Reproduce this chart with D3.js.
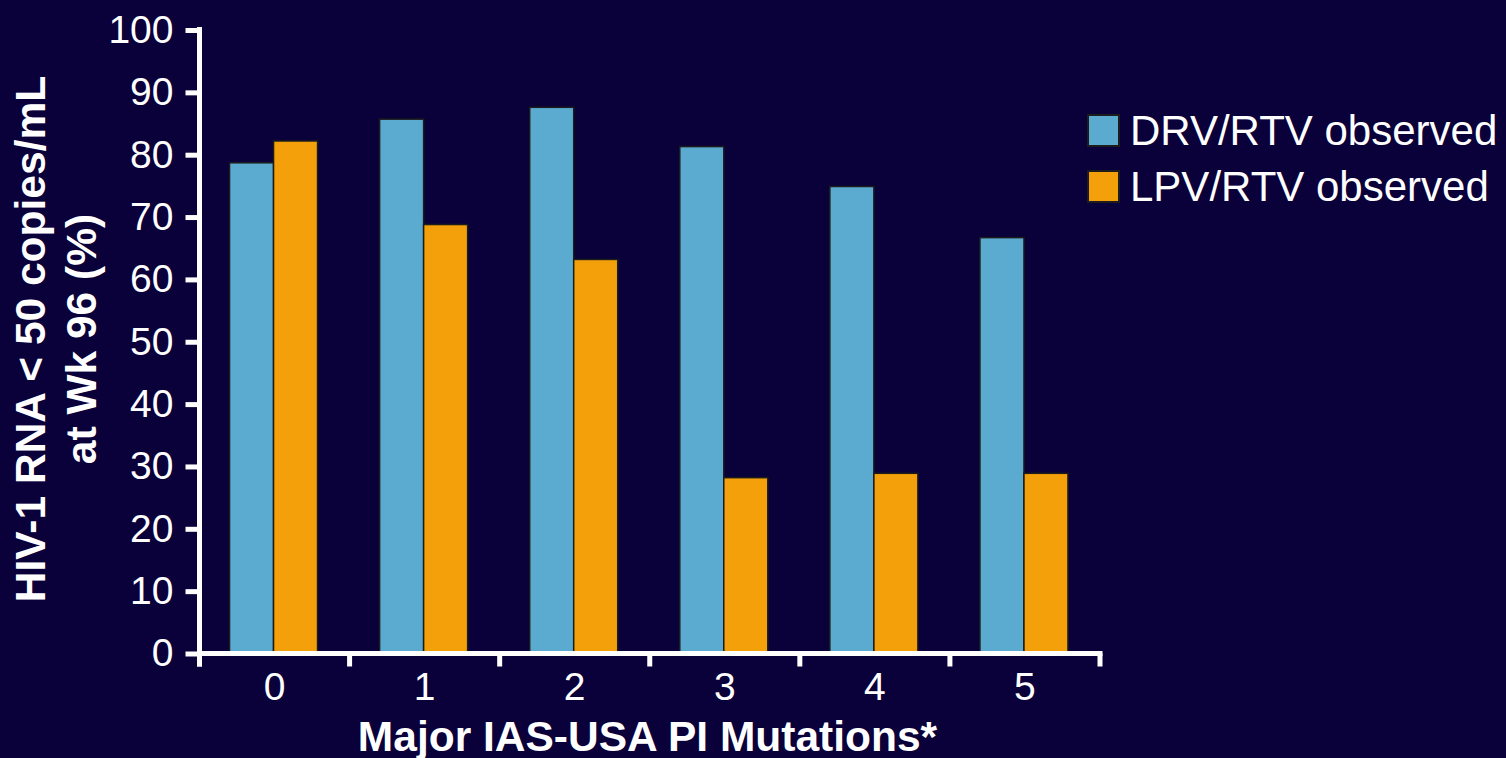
<!DOCTYPE html>
<html>
<head>
<meta charset="utf-8">
<script src="https://cdn.jsdelivr.net/npm/d3@7.9.0/dist/d3.min.js"></script>
<style>
  html, body { margin: 0; padding: 0; background: #0a003a; }
  svg { display: block; font-family: "Liberation Sans", Arial, sans-serif; }
</style>
</head>
<body>
<svg id="chart" width="1506" height="758"></svg>
<script>
const categories = ['0', '1', '2', '3', '4', '5'];
const series = ['DRV/RTV observed', 'LPV/RTV observed'];
const drvValues = [78.7, 85.7, 87.6, 81.3, 74.9, 66.7];
const lpvValues = [82.2, 68.8, 63.2, 28.2, 28.9, 28.9];
const yTicks = [0, 10, 20, 30, 40, 50, 60, 70, 80, 90, 100];
const colors = ['#5aabcf', '#f4a00a'];

const svg = d3.select('#chart');
const plotLeft = 199.5, plotRight = 1100, plotTop = 30, plotBottom = 653.5;

const x = d3.scaleBand().domain(categories).range([plotLeft, plotRight]).padding(0);
const xSub = d3.scaleBand().domain(series).range([0, x.bandwidth()])
  .paddingInner(0).paddingOuter(0.705);
const y = d3.scaleLinear().domain([0, 100]).range([plotBottom, plotTop]);

const rows = categories.map((c, i) => ({ cat: c, vals: [drvValues[i], lpvValues[i]] }));

// bars
const groups = svg.append('g').selectAll('g')
  .data(rows)
  .enter()
  .append('g')
  .attr('transform', d => `translate(${x(d.cat) - 1},0)`);

groups.selectAll('rect')
  .data(d => d.vals.map((v, i) => ({ key: series[i], value: v, i })))
  .enter()
  .append('rect')
  .attr('x', d => xSub(d.key))
  .attr('width', xSub.bandwidth())
  .attr('y', d => y(d.value))
  .attr('height', d => y(0) - y(d.value))
  .attr('fill', d => colors[d.i])
  .attr('stroke', '#1c1c1c')
  .attr('stroke-width', 1.5);

// y axis
const yAxis = svg.append('g')
  .attr('transform', `translate(${plotLeft},0)`)
  .call(d3.axisLeft(y).tickValues(yTicks).tickSize(14).tickPadding(12).tickSizeOuter(0));
yAxis.select('.domain').attr('stroke', '#fff').attr('stroke-width', 5)
  .attr('d', `M0,${plotTop - 3}V${plotBottom + 13}`);
yAxis.selectAll('.tick line').attr('stroke', '#fff').attr('stroke-width', 5);
yAxis.selectAll('.tick text').attr('fill', '#fff').style('font-size', '39px');

// x axis
const xAxis = svg.append('g')
  .attr('transform', `translate(0,${plotBottom})`)
  .call(d3.axisBottom(x).tickSize(0).tickPadding(19).tickSizeOuter(0));
xAxis.select('.domain').attr('stroke', '#fff').attr('stroke-width', 5)
  .attr('d', `M${plotLeft},0H${plotRight + 2.5}`);
xAxis.selectAll('.tick text').attr('fill', '#fff').style('font-size', '39px');

const bounds = categories.map(c => x(c)).concat([x.range()[1]]);
xAxis.selectAll('line.bound')
  .data(bounds)
  .enter()
  .append('line')
  .attr('class', 'bound')
  .attr('x1', d => d).attr('x2', d => d)
  .attr('y1', 0).attr('y2', 13)
  .attr('stroke', '#fff').attr('stroke-width', 5);

// axis titles
svg.append('text')
  .attr('x', 647.5)
  .attr('y', 751)
  .attr('text-anchor', 'middle')
  .attr('fill', '#fff')
  .style('font-size', '42.5px')
  .style('font-weight', 'bold')
  .text('Major IAS-USA PI Mutations*');

const yTitle = svg.append('text')
  .attr('transform', 'translate(0,339) rotate(-90)')
  .attr('text-anchor', 'middle')
  .attr('fill', '#fff')
  .style('font-size', '42.5px')
  .style('font-weight', 'bold');
yTitle.append('tspan').attr('x', 0).attr('y', 45).text('HIV-1 RNA < 50 copies/mL');
yTitle.append('tspan').attr('x', 0).attr('y', 96).text('at Wk 96 (%)');

// legend
const legend = svg.append('g').attr('transform', 'translate(1088,115)');
const items = legend.selectAll('g')
  .data(series)
  .enter()
  .append('g')
  .attr('transform', (_, i) => `translate(0,${i * 56})`);
items.append('rect')
  .attr('width', 31).attr('height', 31)
  .attr('fill', (_, i) => colors[i])
  .attr('stroke', '#1c1c1c').attr('stroke-width', 2);
items.append('text')
  .attr('x', 42).attr('y', 30)
  .attr('fill', '#fff')
  .style('font-size', '42px')
  .text(d => d);
</script>
</body>
</html>
